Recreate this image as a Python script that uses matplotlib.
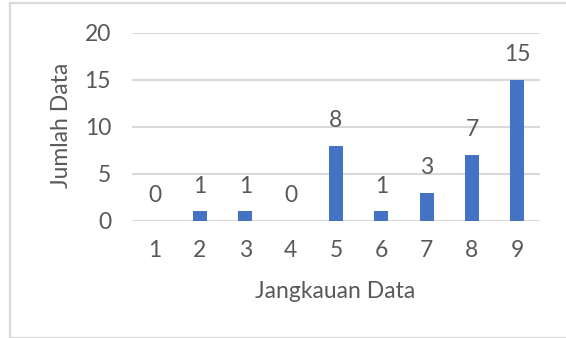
import matplotlib
matplotlib.use("Agg")
import matplotlib.pyplot as plt
from matplotlib.patches import Rectangle

# Frequency of data per range class
categories = ["1", "2", "3", "4", "5", "6", "7", "8", "9"]
counts = [0, 1, 1, 0, 8, 1, 3, 7, 15]
y_ticks = [0, 5, 10, 15, 20]
x_title = "Jangkauan Data"
y_title = "Jumlah Data"

bar_color = "#4472C4"
grid_color = "#D9D9D9"
text_color = "#595959"
font = ["Lato", "DejaVu Sans"]
fs = 16.5

plt.rcParams["font.family"] = font

fig = plt.figure(figsize=(5.66, 3.38), dpi=100)
ax = fig.add_axes([0.233, 0.347, 0.721, 0.556])

xpos = list(range(1, len(categories) + 1))
ax.bar(xpos, counts, width=0.31, color=bar_color, zorder=3)

for x, v in zip(xpos, counts):
    ax.annotate(str(v), (x, v), xytext=(0, 18), textcoords="offset points",
                ha="center", va="center", fontsize=fs, color=text_color)

ax.set_xlim(0.5, len(categories) + 0.5)
ax.set_ylim(0, 20)
ax.set_yticks(y_ticks)
ax.set_xticks(xpos)
ax.set_xticklabels(categories)
ax.tick_params(axis="both", length=0, labelsize=fs, labelcolor=text_color)
ax.tick_params(axis="x", pad=14)
ax.tick_params(axis="y", pad=15)
ax.yaxis.grid(True, color=grid_color, linewidth=1.5, zorder=0)
ax.set_axisbelow(True)
for s in ax.spines.values():
    s.set_visible(False)

fig.text(335 / 566, 1 - 292 / 338, x_title, ha="center", va="center",
         fontsize=fs, color=text_color)
fig.text(62 / 566, 1 - 125 / 338, y_title, ha="center", va="center",
         rotation=90, fontsize=fs, color=text_color)

# light chart frame
fig.patches.append(Rectangle((10 / 566, 0), 1, 1 - 3 / 338, transform=fig.transFigure,
                             fill=False, edgecolor=grid_color, linewidth=1.6))

fig.savefig("out.png", dpi=100, facecolor="white")
